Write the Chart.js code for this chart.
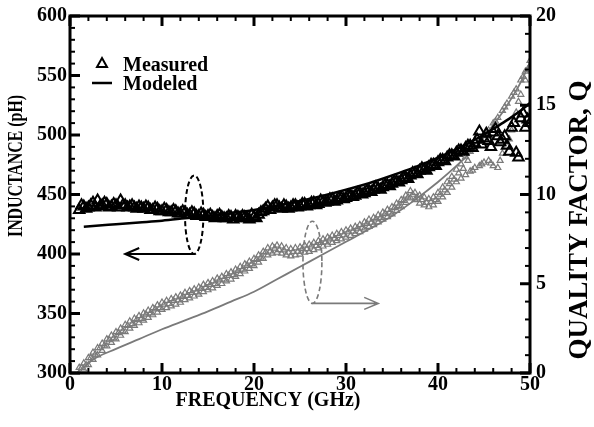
<!DOCTYPE html>
<html>
<head>
<meta charset="utf-8">
<script src="https://cdn.jsdelivr.net/npm/chart.js@4.4.1/dist/chart.umd.min.js"></script>
<style>
  html, body { margin: 0; padding: 0; background: #fff; }
  #wrap { width: 594px; height: 427px; }
</style>
</head>
<body>
<div id="wrap"><canvas id="chart"></canvas></div>
<script>
// ============================================
// Data
// ============================================
const freqMeas = [
  1.0, 1.5, 2.0, 2.5, 3.0, 3.5, 4.0, 4.5, 5.0, 5.5, 6.0, 6.5, 7.0, 7.5, 8.0, 8.5, 9.0, 9.5,
  10.0, 10.5, 11.0, 11.5, 12.0, 12.5, 13.0, 13.5, 14.0, 14.5, 15.0, 15.5, 16.0, 16.5, 17.0, 17.5, 18.0, 18.5, 19.0, 19.5,
  20.0, 20.5, 21.0, 21.5, 22.0, 22.5, 23.0, 23.5, 24.0, 24.5, 25.0, 25.5, 26.0, 26.5, 27.0, 27.5, 28.0, 28.5, 29.0, 29.5,
  30.0, 30.5, 31.0, 31.5, 32.0, 32.5, 33.0, 33.5, 34.0, 34.5, 35.0, 35.5, 36.0, 36.5, 37.0, 37.5, 38.0, 38.5, 39.0, 39.5,
  40.0, 40.5, 41.0, 41.5, 42.0, 42.5, 43.0, 43.5, 44.0, 44.5, 45.0, 45.5, 46.0, 46.5, 47.0, 47.5, 48.0, 48.5, 49.0, 49.5,
  50.0
];
// second sweep, sampled between the first one
const freqMeas2 = [
  1.25, 1.75, 2.25, 2.75, 3.25, 3.75, 4.25, 4.75, 5.25, 5.75, 6.25, 6.75, 7.25, 7.75, 8.25, 8.75, 9.25, 9.75,
  10.25, 10.75, 11.25, 11.75, 12.25, 12.75, 13.25, 13.75, 14.25, 14.75, 15.25, 15.75, 16.25, 16.75, 17.25, 17.75, 18.25, 18.75, 19.25, 19.75,
  20.25, 20.75, 21.25, 21.75, 22.25, 22.75, 23.25, 23.75, 24.25, 24.75, 25.25, 25.75, 26.25, 26.75, 27.25, 27.75, 28.25, 28.75, 29.25, 29.75,
  30.25, 30.75, 31.25, 31.75, 32.25, 32.75, 33.25, 33.75, 34.25, 34.75, 35.25, 35.75, 36.25, 36.75, 37.25, 37.75, 38.25, 38.75, 39.25, 39.75,
  40.25, 40.75, 41.25, 41.75, 42.25, 42.75, 43.25, 43.75, 44.25, 44.75, 45.25, 45.75, 46.25, 46.75, 47.25, 47.75, 48.25, 48.75, 49.25, 49.75
];

// measured inductance (pH)
const indMeas = [
  437, 440, 439, 443, 445, 441, 442, 440, 441, 445, 441, 440, 439, 440, 438, 439, 437, 438,
  436, 437, 435, 436, 434, 435, 433, 434, 432, 433, 432, 431, 432, 431, 430, 431, 432, 430, 431, 429,
  431, 433, 436, 440, 439, 441, 438, 440, 439, 441, 440, 442, 441, 443, 442, 444, 444, 446, 445, 447,
  447, 449, 449, 451, 451, 453, 454, 455, 456, 458, 459, 461, 462, 464, 466, 468, 470, 471, 473, 475,
  477, 479, 481, 483, 485, 487, 489, 491, 493, 503, 497, 495, 502, 499, 496, 491, 506, 485, 514, 506,
  510
];
const indMeas2 = [
  441, 438, 441, 439, 440, 443, 439, 442, 439, 441, 439, 441, 438, 439, 440, 437, 439, 436,
  438, 435, 437, 434, 436, 433, 435, 432, 434, 431, 433, 430, 433, 430, 432, 429, 431, 432, 430, 433,
  430, 435, 438, 437, 441, 439, 441, 438, 441, 439, 442, 440, 443, 441, 445, 443, 446, 444, 447, 446,
  449, 448, 451, 450, 453, 452, 456, 454, 458, 457, 461, 460, 464, 463, 468, 467, 472, 470, 475, 474,
  479, 478, 483, 482, 487, 486, 491, 489, 496, 492, 501, 490, 505, 494, 499, 486, 510, 481, 518, 513
];

// measured quality factor: upper and lower edge of the band, plus the in-between sweep
const qMeasHi = [
  0.3, 0.55, 0.85, 1.15, 1.4, 1.65, 1.9, 2.1, 2.3, 2.5, 2.7, 2.9, 3.05, 3.2, 3.35, 3.5, 3.65, 3.8,
  3.95, 4.05, 4.15, 4.25, 4.35, 4.5, 4.6, 4.7, 4.8, 4.95, 5.05, 5.15, 5.3, 5.4, 5.55, 5.65, 5.8, 5.95, 6.1, 6.25,
  6.4, 6.6, 6.8, 7.0, 7.1, 7.15, 7.1, 7.0, 6.95, 7.0, 7.05, 7.15, 7.2, 7.3, 7.4, 7.5, 7.6, 7.7, 7.8, 7.9,
  8.0, 8.1, 8.2, 8.3, 8.45, 8.6, 8.7, 8.85, 9.0, 9.15, 9.3, 9.5, 9.7, 9.95, 10.2, 10.1, 9.95, 9.85, 9.75, 9.85,
  10.1, 10.4, 10.7, 11.0, 11.4, 11.7, 12.1, 12.4, 12.7, 13.0, 13.3, 13.6, 14.0, 14.3, 14.7, 15.1, 15.5, 15.9, 16.4, 16.9,
  17.5
];
const qMeasLo = [
  0.0, 0.2, 0.45, 0.75, 1.0, 1.25, 1.5, 1.7, 1.9, 2.1, 2.3, 2.5, 2.65, 2.8, 2.95, 3.1, 3.25, 3.4,
  3.55, 3.65, 3.75, 3.85, 3.95, 4.1, 4.2, 4.3, 4.4, 4.55, 4.65, 4.75, 4.9, 5.0, 5.15, 5.25, 5.4, 5.55, 5.7, 5.85,
  6.0, 6.2, 6.4, 6.6, 6.7, 6.75, 6.7, 6.6, 6.55, 6.6, 6.65, 6.75, 6.8, 6.9, 7.0, 7.1, 7.2, 7.3, 7.4, 7.5,
  7.6, 7.7, 7.8, 7.9, 8.05, 8.2, 8.3, 8.45, 8.6, 8.75, 8.9, 9.1, 9.3, 9.55, 9.8, 9.7, 9.5, 9.4, 9.3, 9.4,
  9.6, 9.85, 10.1, 10.4, 10.7, 10.9, 11.1, 11.3, 11.5, 11.6, 11.8, 11.9, 11.6, 11.5, 12.3, 12.7, 13.6, 14.6, 15.6, 16.4,
  17.2
];
const qMeasMid = [
  0.3, 0.45, 0.85, 1.05, 1.4, 1.55, 1.85, 1.95, 2.25, 2.35, 2.65, 2.75, 2.98, 3.05, 3.28, 3.35, 3.58, 3.65,
  3.85, 3.88, 4.05, 4.08, 4.28, 4.33, 4.5, 4.53, 4.72, 4.78, 4.95, 5.0, 5.2, 5.25, 5.45, 5.5, 5.72, 5.8, 6.02, 6.1,
  6.35, 6.48, 6.75, 6.82, 6.98, 6.9, 6.88, 6.75, 6.8, 6.8, 6.95, 6.95, 7.1, 7.13, 7.3, 7.33, 7.5, 7.53, 7.7, 7.73,
  7.9, 7.93, 8.1, 8.15, 8.37, 8.43, 8.62, 8.7, 8.92, 9.0, 9.25, 9.38, 9.65, 9.85, 10.0, 9.8, 9.7, 9.55, 9.6, 9.7,
  10.0, 10.25, 10.6, 10.85, 11.2, 11.45, 11.9, 11.35, 12.8, 11.7, 13.4, 11.75, 14.1, 11.9, 14.9, 13.1, 15.7, 15.2, 16.6, 17.0
];

// modeled curves
const freqModel = [1.5, 2.5, 5, 7.5, 10, 12.5, 15, 17.5, 20, 22.5, 25, 27.5, 30, 32.5, 35, 37.5, 40, 42, 44, 45, 46, 47, 48, 49, 50];
const indModel  = [423, 423.5, 425, 426.5, 428, 430, 432, 434.5, 437, 440.5, 444.5, 449, 454, 459.5, 466, 473, 481, 488, 496, 500.5, 505, 510, 515, 520.5, 527];
const qModel    = [0.3, 0.75, 1.35, 1.9, 2.45, 2.95, 3.45, 4.0, 4.55, 5.25, 5.95, 6.65, 7.35, 8.05, 8.8, 9.7, 10.7, 11.6, 12.6, 13.2, 13.9, 14.6, 15.4, 16.3, 17.4];

// tick labels
const xTicks = [0, 10, 20, 30, 40, 50];
const indTicks = [300, 350, 400, 450, 500, 550, 600];
const qTicks = [0, 5, 10, 15, 20];

// annotation ellipses (data units) and arrows
const ellL = { f: 13.5, v: 433, rf: 1.0, rv: 33, arrowTo: 6.0 };
const ellQ = { f: 26.35, v: 6.2, rf: 1.03, rv: 2.3, arrowTo: 33.5 };

const GRAY = '#7a7a7a';
const SERIF = "'Liberation Serif', 'Times New Roman', serif";

const pts = (xs, ys) => xs.map((x, i) => ({ x, y: ys[i] }));

const markers = (label, xs, ys, axis, color, r, w) => ({
  label,
  data: pts(xs, ys),
  yAxisID: axis,
  showLine: false,
  pointStyle: 'triangle',
  pointRadius: r,
  pointBorderWidth: w,
  pointBorderColor: color,
  pointBackgroundColor: 'rgba(255,255,255,0)',
});

// ============================================
// frame, inward ticks, titles, legend, annotations
// ============================================
const decorPlugin = {
  id: 'decor',
  afterDraw(chart) {
    const { ctx, chartArea: a, scales } = chart;
    const sx = scales.x, sL = scales.y, sQ = scales.y2;
    ctx.save();

    // frame
    ctx.strokeStyle = '#000';
    ctx.lineWidth = 3;
    ctx.strokeRect(a.left, a.top, a.right - a.left, a.bottom - a.top);

    // inward ticks
    const tick = (x1, y1, x2, y2, w) => {
      ctx.lineWidth = w;
      ctx.beginPath(); ctx.moveTo(x1, y1); ctx.lineTo(x2, y2); ctx.stroke();
    };
    for (let v = 0; v <= 50; v += 2) {
      const px = sx.getPixelForValue(v);
      const major = v % 10 === 0;
      const len = major ? 10 : 5;
      tick(px, a.bottom, px, a.bottom - len, major ? 3 : 2);
      tick(px, a.top, px, a.top + len, major ? 3 : 2);
    }
    for (let v = 300; v <= 600; v += 10) {
      const py = sL.getPixelForValue(v);
      const major = v % 50 === 0;
      tick(a.left, py, a.left + (major ? 10 : 5), py, major ? 3 : 2);
    }
    for (let v = 0; v <= 20; v += 1) {
      const py = sQ.getPixelForValue(v);
      const major = v % 5 === 0;
      tick(a.right, py, a.right - (major ? 10 : 5), py, major ? 3 : 2);
    }

    // axis titles
    ctx.fillStyle = '#000';
    ctx.textAlign = 'center';
    ctx.textBaseline = 'middle';
    ctx.font = 'bold 20px ' + SERIF;
    ctx.fillText('FREQUENCY (GHz)', 268, 401);

    ctx.save();
    ctx.translate(17, 166);
    ctx.rotate(-Math.PI / 2);
    ctx.font = 'bold 20px ' + SERIF;
    ctx.fillText('INDUCTANCE (pH)', 0, 0, 142);
    ctx.restore();

    ctx.save();
    ctx.translate(580, 220);
    ctx.rotate(-Math.PI / 2);
    ctx.font = 'bold 27px ' + SERIF;
    ctx.fillText('QUALITY FACTOR, Q', 0, 0, 286);
    ctx.restore();

    // legend
    ctx.textAlign = 'left';
    ctx.textBaseline = 'alphabetic';
    ctx.font = 'bold 20px ' + SERIF;
    ctx.lineWidth = 2;
    ctx.beginPath();
    ctx.moveTo(102, 58); ctx.lineTo(107, 67); ctx.lineTo(97, 67); ctx.closePath();
    ctx.stroke();
    ctx.fillText('Measured', 123, 71);
    ctx.lineWidth = 2.5;
    ctx.beginPath(); ctx.moveTo(92, 83); ctx.lineTo(112, 83); ctx.stroke();
    ctx.fillText('Modeled', 123, 90);

    // annotations: dashed ellipse + arrow
    const drawMark = (e, yScale, color, lw, dir) => {
      const cx = sx.getPixelForValue(e.f);
      const cy = yScale.getPixelForValue(e.v);
      const rx = Math.abs(sx.getPixelForValue(e.f + e.rf) - cx);
      const ry = Math.abs(yScale.getPixelForValue(e.v + e.rv) - cy);
      ctx.strokeStyle = color;
      ctx.lineWidth = lw;
      ctx.setLineDash([5, 3]);
      ctx.beginPath();
      ctx.ellipse(cx, cy, rx, ry, 0, 0, Math.PI * 2);
      ctx.stroke();
      ctx.setLineDash([]);
      const by = cy + ry;
      const tx = sx.getPixelForValue(e.arrowTo);
      ctx.beginPath();
      ctx.moveTo(cx, by); ctx.lineTo(tx, by);
      ctx.moveTo(tx - dir * 14, by - 6); ctx.lineTo(tx, by); ctx.lineTo(tx - dir * 14, by + 6);
      ctx.stroke();
    };
    drawMark(ellL, sL, '#000', 2, -1);
    drawMark(ellQ, sQ, GRAY, 1.6, 1);

    ctx.restore();
  }
};

const tickFont = { family: SERIF, size: 20, weight: 'bold', lineHeight: 1 };

new Chart(document.getElementById('chart'), {
  type: 'line',
  data: {
    datasets: [
      markers('Measured L', freqMeas, indMeas, 'y', '#000', 6, 2),
      markers('Measured L (2)', freqMeas2, indMeas2, 'y', '#000', 6, 2),
      {
        label: 'Modeled L',
        data: pts(freqModel, indModel),
        yAxisID: 'y',
        borderColor: '#000',
        borderWidth: 2.5,
        pointRadius: 0,
        cubicInterpolationMode: 'monotone',
        fill: false,
      },
      {
        label: 'Modeled Q',
        data: pts(freqModel, qModel),
        yAxisID: 'y2',
        borderColor: GRAY,
        borderWidth: 1.8,
        pointRadius: 0,
        cubicInterpolationMode: 'monotone',
        fill: false,
      },
      markers('Measured Q hi', freqMeas, qMeasHi, 'y2', GRAY, 3.5, 1.2),
      markers('Measured Q mid', freqMeas2, qMeasMid, 'y2', GRAY, 3.5, 1.2),
      markers('Measured Q lo', freqMeas, qMeasLo, 'y2', GRAY, 3.5, 1.2),
    ],
  },
  options: {
    responsive: true,
    maintainAspectRatio: false,
    animation: false,
    layout: { padding: { top: 15, left: 0, right: 0, bottom: 0 } },
    plugins: { legend: { display: false }, tooltip: { enabled: false } },
    scales: {
      x: {
        type: 'linear',
        min: 0, max: 50,
        grid: { display: false, drawTicks: false },
        border: { display: false },
        afterBuildTicks: s => { s.ticks = xTicks.map(v => ({ value: v })); },
        afterFit: s => { s.height = 54; },
        ticks: { color: '#000', padding: 2, maxRotation: 0, font: tickFont },
      },
      y: {
        position: 'left',
        min: 300, max: 600,
        grid: { display: false, drawTicks: false },
        border: { display: false },
        afterBuildTicks: s => { s.ticks = indTicks.map(v => ({ value: v })); },
        afterFit: s => { s.width = 70; },
        ticks: { color: '#000', padding: 3, font: tickFont },
      },
      y2: {
        position: 'right',
        min: 0, max: 20,
        grid: { display: false, drawTicks: false },
        border: { display: false },
        afterBuildTicks: s => { s.ticks = qTicks.map(v => ({ value: v })); },
        afterFit: s => { s.width = 64; },
        ticks: { color: '#000', padding: 6, font: tickFont },
      },
    },
  },
  plugins: [decorPlugin],
});
</script>
</body>
</html>
